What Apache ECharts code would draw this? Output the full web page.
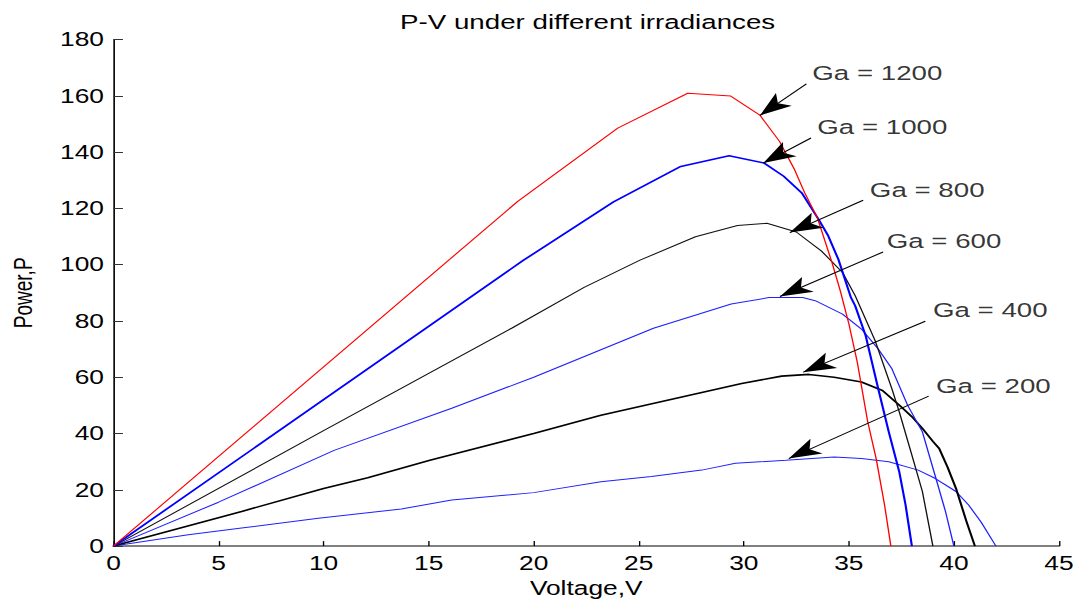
<!DOCTYPE html>
<html>
<head>
<meta charset="utf-8"/>
<script src="https://cdn.jsdelivr.net/npm/echarts@6/dist/echarts.min.js"></script>
<style>
html,body{margin:0;padding:0;background:#fff;overflow:hidden}
/* the source figure is stretched sideways, so draw narrow and stretch */
#main{width:798px;height:603px;transform:scaleX(1.35088);transform-origin:0 0}
</style>
</head>
<body>
<div id="main"></div>
<script>
// [voltage, power]
var ga1200 = [[0,0],[19.24,122.5],[24.0,148.5],[27.33,160.9],[29.38,159.9],[30.78,153],[31.7,143.8],[32.4,134],[32.9,125.5],[33.5,116.7],[34.2,100.7],[34.6,90.5],[35.0,79],[35.4,65.4],[35.9,44.1],[36.3,31.1],[36.7,14.6],[37.0,0]];
var ga1000 = [[0,0],[19.5,101.5],[23.8,122.3],[27.0,134.9],[29.3,138.7],[30.97,136.1],[31.9,131.4],[32.76,125.5],[33.56,116.1],[34.0,110.5],[34.5,101.9],[35.1,88.3],[35.3,85.4],[35.8,74.8],[36.4,55.9],[36.9,40.6],[37.4,26.4],[37.7,14.6],[38.0,0]];
var ga800 = [[0,0],[10,41],[18.95,77.4],[22.4,91.9],[25.06,101.6],[27.7,109.9],[29.7,113.9],[31.1,114.7],[32.5,111.6],[33.7,104.8],[34.7,97.2],[35.3,89],[36.25,73],[37.05,55.9],[37.4,47.7],[38.0,32.3],[38.5,19.4],[39.0,0]];
var ga600 = [[0,0],[5,15.6],[10.5,34],[16.1,49],[20,60],[25.7,77.4],[29.4,86],[31.2,88.3],[32.8,88.3],[33.4,87.2],[34.7,82.4],[35.6,77.1],[36.4,70],[37.05,63],[37.8,50],[38.5,40.6],[39.1,25.2],[39.6,12.3],[40.0,0]];
var ga400 = [[0,0],[6.1,12.3],[10,20.5],[12.1,24.3],[15.06,30.5],[20,40],[23.2,46.5],[28,54.6],[29.9,57.8],[31.8,60.4],[33.1,61],[34.3,60],[35.6,58.3],[36.6,55.3],[37.5,49.4],[38.0,46],[38.5,41.8],[39.0,37.2],[39.3,34.7],[39.7,28],[40.1,20.5],[40.6,8.7],[41,0]];
var ga200 = [[0,0],[3.56,4],[6.1,6.4],[9.75,9.9],[13.7,13.2],[16.1,16.4],[20,19],[23.2,22.9],[25.6,24.7],[28,27],[29.6,29.4],[32,30.5],[34.3,31.7],[35.6,31.1],[36.9,30],[38.3,27],[39.1,24.1],[40.1,19.4],[40.7,14.6],[41.3,8.5],[42,0]];

// annotation texts [V, P, text] and arrows [fromV, fromP, toV, toP]
var labels = [[33.26,168,'Ga = 1200'],[33.5,149,'Ga = 1000'],[36.0,126.7,'Ga = 800'],[36.8,108.3,'Ga = 600'],[39.0,84,'Ga = 400'],[39.15,57.1,'Ga = 200']];
var arrows = [[32.98,164.2,30.77,153],[33.2,145,30.93,136.1],[35.68,122.9,32.19,111.4],[36.63,104.5,31.72,88.7],[38.64,79.9,32.83,61.8],[38.8,53.3,32.14,31.1]];

var xMin = 0, xMax = 45, xStep = 5;
var yMin = 0, yMax = 180, yStep = 20;

var font = '"Liberation Sans", Arial, Helvetica, sans-serif';

function curve(name, data, color, width){
    return {
        name: name, type: 'line', data: data, showSymbol: false, silent: true,
        lineStyle: {color: color, width: width}
    };
}

var myChart = echarts.init(document.getElementById('main'), null, {renderer: 'svg'});
var option = {
    animation: false,
    backgroundColor: '#fff',
    title: {
        text: 'P-V under different irradiances',
        left: 430, top: 6, textAlign: 'center',
        textStyle: {fontFamily: font, fontSize: 20.5, fontWeight: 'normal', color: '#000'}
    },
    grid: {left: 82.9, right: 14.1, top: 39.5, bottom: 55},
    xAxis: {
        type: 'value', min: xMin, max: xMax, interval: xStep,
        name: 'Voltage,V', nameLocation: 'middle', nameGap: 31,
        nameTextStyle: {fontFamily: font, fontSize: 19.5, color: '#000'},
        axisLine: {lineStyle: {color: '#808080', width: 2}},
        axisTick: {inside: true, length: 5, lineStyle: {color: '#000'}},
        axisLabel: {fontFamily: font, fontSize: 19.5, color: '#000', margin: 7},
        splitLine: {show: false}
    },
    yAxis: {
        type: 'value', min: yMin, max: yMax, interval: yStep,
        name: 'Power,P', nameLocation: 'middle', nameGap: 57, nameRotate: 90,
        nameTextStyle: {fontFamily: font, fontSize: 19, color: '#000'},
        axisLine: {lineStyle: {color: '#000', width: 1.2}},
        axisTick: {inside: true, length: 7, lineStyle: {color: '#333'}},
        axisLabel: {fontFamily: font, fontSize: 19.5, color: '#000', margin: 7},
        splitLine: {show: false}
    },
    series: [
        curve('Ga = 200', ga200, '#2020ff', 1),
        curve('Ga = 400', ga400, '#000', 1.6),
        curve('Ga = 600', ga600, '#2020ff', 1),
        curve('Ga = 800', ga800, '#111', 1),
        curve('Ga = 1000', ga1000, '#0000ff', 1.6),
        curve('Ga = 1200', ga1200, '#ff0000', 1),
        {
            name: 'notes', type: 'scatter', data: labels, symbolSize: 0, silent: true,
            label: {
                show: true, position: 'right', distance: 0,
                formatter: function(p){ return p.value[2]; },
                fontFamily: font, fontSize: 20.5, color: '#000'
            },
            markLine: {
                silent: true, animation: false,
                symbol: ['none', 'arrow'],
                lineStyle: {color: '#000', width: 1, type: 'solid'},
                label: {show: false},
                emphasis: {disabled: true},
                data: arrows.map(function(a){
                    return [
                        {coord: [a[0], a[1]], symbol: 'none'},
                        {coord: [a[2], a[3]], symbol: 'arrow', symbolSize: [13, 24]}
                    ];
                })
            }
        }
    ]
};
myChart.setOption(option);
</script>
</body>
</html>
